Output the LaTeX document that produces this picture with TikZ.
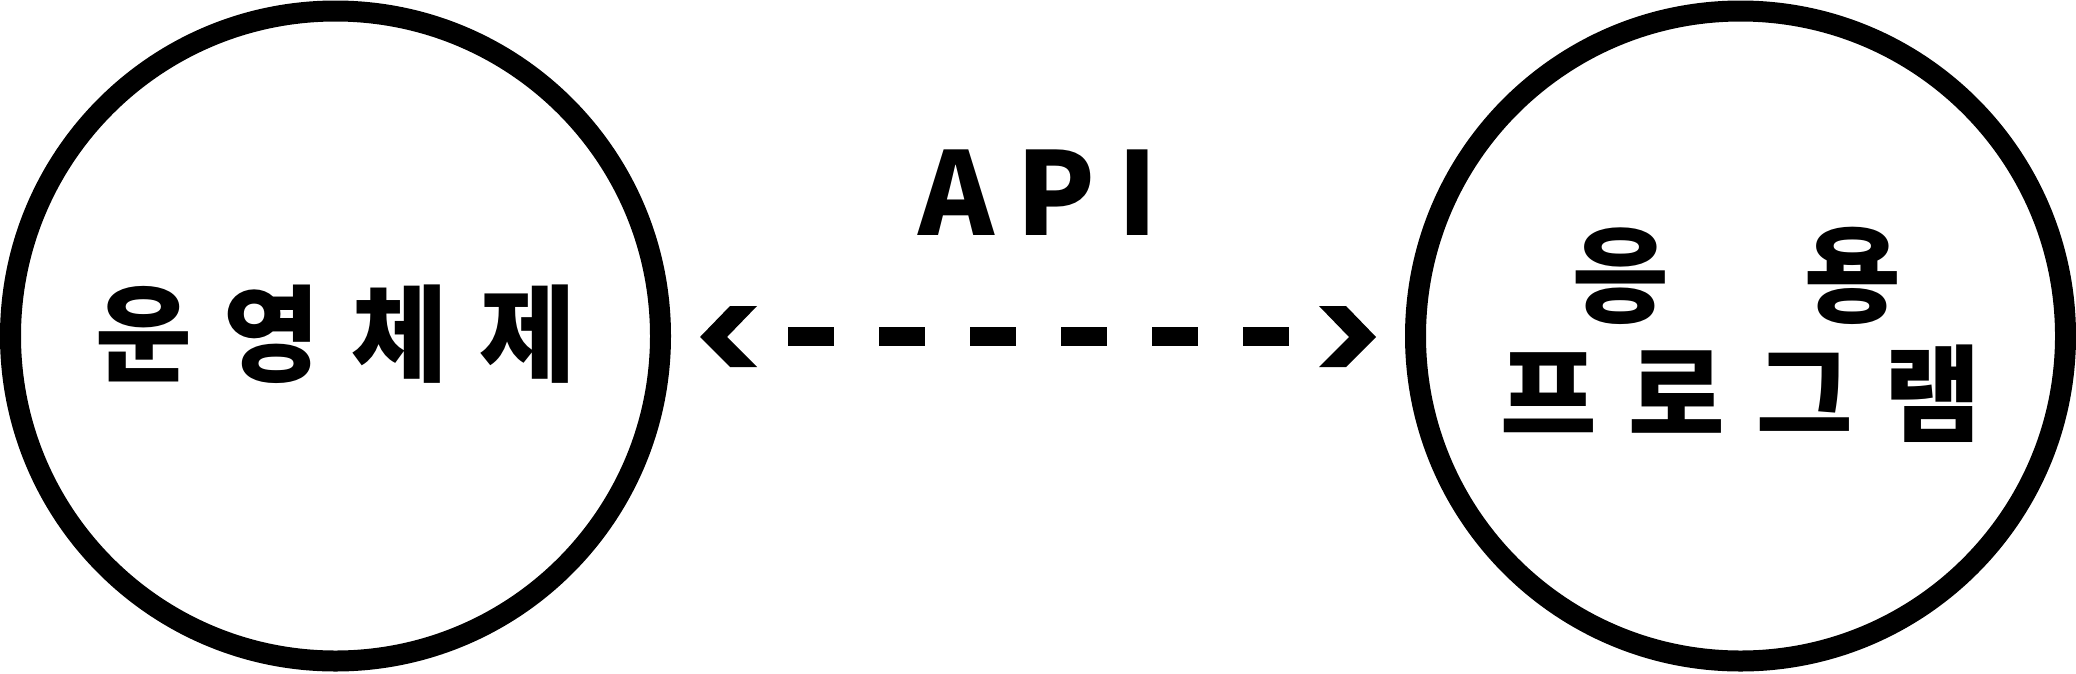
\documentclass[tikz,border=0pt]{standalone}
\usepackage{fontspec}
\newfontfamily\krb{Noto Sans CJK KR Black}
\newcommand{\cell}[2]{\makebox[#1][c]{#2}}
\tikzset{
  ring/.style={circle, draw=black, line width=21pt, minimum size=650pt, inner sep=0pt},
  hangul/.style={inner sep=0pt, anchor=base, font=\krb\fontsize{105pt}{105pt}\selectfont},
  apilabel/.style={inner sep=0pt, anchor=base, font=\krb\fontsize{115pt}{115pt}\selectfont},
  chev/.style={fill=black, draw=none},
  dashline/.style={line width=19pt, dash pattern=on 46pt off 45pt}
}
\begin{document}
\begin{tikzpicture}[x=1pt,y=-1pt]
\useasboundingbox (0,0) rectangle (2076,673);
\node[ring] (os) at (335.5,336) {};
\node[ring] (app) at (1740.5,336) {};
\node[hangul] (ostext) at (336,373) {\cell{128pt}{운}\cell{128pt}{영}\cell{128pt}{체}\cell{128pt}{제}};
\node[hangul] (apptop) at (1737,314) {\cell{232pt}{응}\cell{232pt}{용}};
\node[hangul] (appbot) at (1741,433) {\cell{128pt}{프}\cell{128pt}{로}\cell{128pt}{그}\cell{128pt}{램}};
\node[apilabel] (api) at (1038,235) {A\hspace{22pt}P\hspace{22pt}I};
\coordinate (dl) at (788,336);
\coordinate (dr) at (1289,336);
\draw[dashline] (dl) -- (dr);
\fill[chev] (700,337) -- (730,306) -- (757,306) -- (727,337) -- (757,367) -- (730,367) -- cycle;
\fill[chev] (1376,337) -- (1346,306) -- (1319,306) -- (1349,337) -- (1319,367) -- (1346,367) -- cycle;
\end{tikzpicture}
\end{document}
